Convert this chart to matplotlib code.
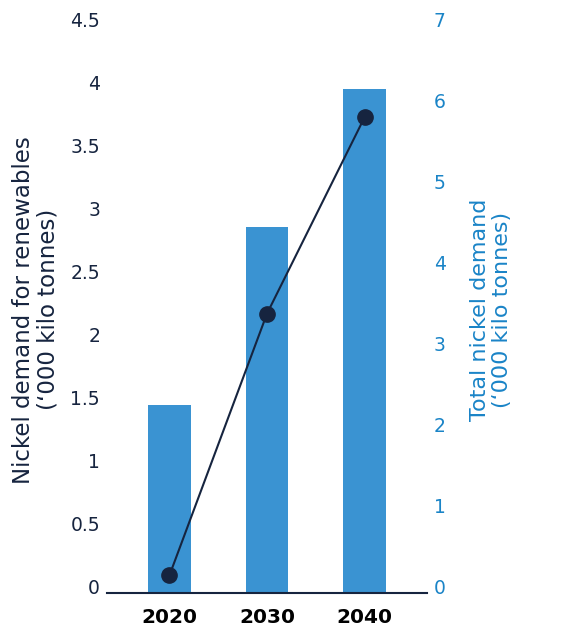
import matplotlib
matplotlib.use("Agg")
import matplotlib.pyplot as plt
from matplotlib.transforms import ScaledTranslation

years = ["2020", "2030", "2040"]
total_demand = [2.32, 4.53, 6.23]        # right axis, bars
renewables_demand = [0.14, 2.22, 3.78]   # left axis, line
left_ticks = [0, 0.5, 1, 1.5, 2, 2.5, 3, 3.5, 4, 4.5]
left_tick_labels = ["0", "0.5", "1", "1.5", "2", "2.5", "3", "3.5", "4", "4.5"]
right_ticks = [0, 1, 2, 3, 4, 5, 6, 7]

NAVY = "#16243f"
BAR = "#3a93d2"
BLUE_TXT = "#1a84c7"
FONT = ["DejaVu Sans"]

plt.rcParams["font.family"] = FONT

fig = plt.figure(figsize=(5.67, 6.28), dpi=100)
ax = fig.add_axes([0.1887, 0.0557, 0.5644, 0.9018])
ax2 = ax.twinx()

x = list(range(len(years)))
ax2.bar(x, total_demand, width=0.44, color=BAR, zorder=1)
ax.plot(x, renewables_demand, color=NAVY, lw=1.5, marker="o", ms=11, zorder=3)

ax.set_zorder(ax2.get_zorder() + 1)
ax.patch.set_visible(False)

ax.set_xlim(-0.64, 2.64)
ax.set_ylim(0, 4.5)
ax2.set_ylim(0, 7)
ax.set_xticks(x)
ax.set_xticklabels(years, fontsize=14.5, fontweight="bold", color="black")
ax.set_yticks(left_ticks)
ax.set_yticklabels(left_tick_labels, fontsize=13.5, color=NAVY)
ax2.set_yticks(right_ticks)
ax2.set_yticklabels([str(t) for t in right_ticks], fontsize=13.5, color=BLUE_TXT)

for a in (ax, ax2):
    for s in ("top", "left", "right", "bottom"):
        a.spines[s].set_visible(False)
ax.spines["bottom"].set_visible(True)
ax.spines["bottom"].set_color(NAVY)
ax.spines["bottom"].set_linewidth(1.5)

ax.tick_params(axis="y", length=0, pad=5)
ax2.tick_params(axis="y", length=0, pad=5)
ax.tick_params(axis="x", length=0, pad=11)

# labels sit slightly above their tick values, as in the reference
up = ScaledTranslation(0, 5 / 72, fig.dpi_scale_trans)
for lab in ax.get_yticklabels() + ax2.get_yticklabels():
    lab.set_transform(lab.get_transform() + up)

ax.set_ylabel("Nickel demand for renewables\n(\u2018000 kilo tonnes)", fontsize=16.5,
              color=NAVY, linespacing=1.12)
ax.yaxis.set_label_coords(-0.147, 0.5)
ax2.set_ylabel("Total nickel demand\n(\u2018000 kilo tonnes)", fontsize=16,
               color=BLUE_TXT, rotation=90, linespacing=1.15)
ax2.yaxis.set_label_coords(1.134, 0.5)

fig.savefig("out.png", dpi=100)
